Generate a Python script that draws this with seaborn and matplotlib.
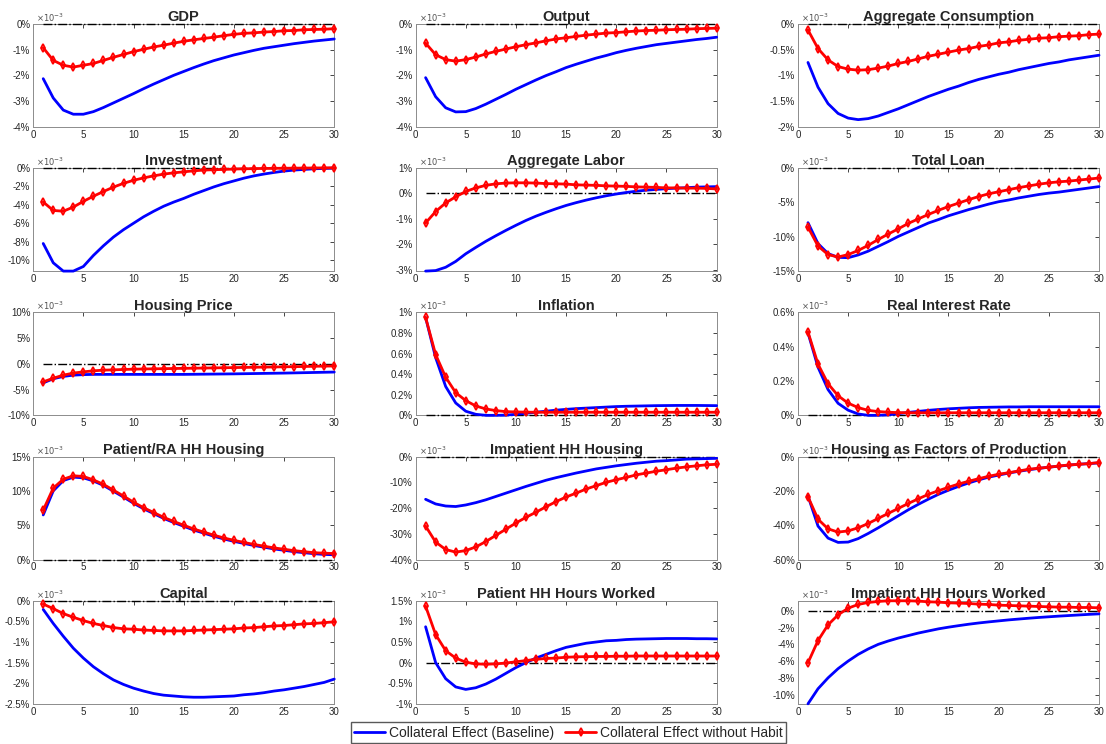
import numpy as np
import matplotlib
matplotlib.use('Agg')
import matplotlib.pyplot as plt
import seaborn as sns

# periods after the shock
periods = list(range(1, 31))

# Collateral Effect (Baseline) / Collateral Effect without Habit, values in %
gdp_base = [-2.13, -2.88, -3.35, -3.51, -3.51, -3.41, -3.25, -3.07, -2.89, -2.71,
            -2.52, -2.34, -2.17, -2.00, -1.85, -1.70, -1.56, -1.43, -1.32, -1.21,
            -1.12, -1.03, -0.95, -0.89, -0.83, -0.77, -0.72, -0.67, -0.63, -0.59]
gdp_nohabit = [-0.93, -1.42, -1.61, -1.68, -1.61, -1.54, -1.42, -1.30, -1.19, -1.08,
               -0.99, -0.90, -0.83, -0.75, -0.68, -0.62, -0.57, -0.52, -0.46, -0.41,
               -0.37, -0.35, -0.32, -0.30, -0.27, -0.26, -0.23, -0.22, -0.21, -0.19]

output_base = [-2.09, -2.83, -3.26, -3.42, -3.41, -3.29, -3.12, -2.93, -2.74, -2.54,
               -2.36, -2.18, -2.01, -1.86, -1.70, -1.57, -1.45, -1.33, -1.23, -1.12,
               -1.03, -0.95, -0.88, -0.81, -0.76, -0.71, -0.66, -0.61, -0.57, -0.52]
output_nohabit = [-0.75, -1.20, -1.39, -1.45, -1.39, -1.29, -1.17, -1.07, -0.98, -0.89,
                  -0.81, -0.74, -0.66, -0.59, -0.54, -0.49, -0.44, -0.40, -0.36, -0.34,
                  -0.31, -0.28, -0.26, -0.25, -0.23, -0.22, -0.21, -0.19, -0.18, -0.17]

cons_base = [-0.75, -1.23, -1.55, -1.74, -1.83, -1.86, -1.84, -1.79, -1.72, -1.65,
             -1.57, -1.49, -1.41, -1.34, -1.27, -1.21, -1.14, -1.08, -1.03, -0.98,
             -0.94, -0.89, -0.85, -0.81, -0.77, -0.74, -0.70, -0.67, -0.64, -0.61]
cons_nohabit = [-0.12, -0.48, -0.70, -0.83, -0.88, -0.90, -0.89, -0.86, -0.82, -0.77,
                -0.73, -0.68, -0.63, -0.59, -0.55, -0.51, -0.48, -0.44, -0.41, -0.37,
                -0.35, -0.32, -0.30, -0.28, -0.27, -0.25, -0.24, -0.23, -0.21, -0.20]

inv_base = [-8.2, -10.3, -11.2, -11.2, -10.7, -9.5, -8.45, -7.5, -6.7, -6.0,
            -5.3, -4.7, -4.15, -3.7, -3.3, -2.85, -2.45, -2.05, -1.7, -1.4,
            -1.1, -0.85, -0.65, -0.48, -0.33, -0.22, -0.15, -0.08, -0.04, 0.0]
inv_nohabit = [-3.69, -4.61, -4.69, -4.24, -3.62, -3.06, -2.55, -2.07, -1.66, -1.33,
               -1.07, -0.85, -0.66, -0.52, -0.41, -0.30, -0.22, -0.18, -0.15, -0.11,
               -0.08, -0.06, -0.04, -0.03, -0.02, -0.01, 0.0, 0.01, 0.02, 0.03]

labor_base = [-3.05, -3.03, -2.90, -2.67, -2.37, -2.12, -1.88, -1.66, -1.45, -1.25,
              -1.06, -0.89, -0.74, -0.60, -0.47, -0.36, -0.26, -0.17, -0.09, -0.02,
              0.04, 0.09, 0.13, 0.16, 0.19, 0.21, 0.23, 0.25, 0.26, 0.27]
labor_nohabit = [-1.16, -0.71, -0.37, -0.13, 0.08, 0.22, 0.32, 0.38, 0.41, 0.42,
                 0.42, 0.41, 0.39, 0.38, 0.37, 0.34, 0.33, 0.32, 0.30, 0.29,
                 0.28, 0.26, 0.25, 0.24, 0.22, 0.22, 0.21, 0.21, 0.20, 0.18]

loan_base = [-7.95, -11.0, -12.45, -13.0, -13.05, -12.65, -12.1, -11.4, -10.7, -9.95,
             -9.3, -8.65, -8.0, -7.5, -6.95, -6.5, -6.05, -5.65, -5.25, -4.9,
             -4.65, -4.35, -4.1, -3.85, -3.65, -3.5, -3.3, -3.1, -2.9, -2.7]
loan_nohabit = [-8.6, -11.35, -12.6, -12.95, -12.6, -12.0, -11.25, -10.4, -9.6, -8.85,
                -8.05, -7.4, -6.75, -6.15, -5.6, -5.1, -4.6, -4.15, -3.75, -3.45,
                -3.15, -2.85, -2.6, -2.35, -2.15, -2.0, -1.9, -1.75, -1.6, -1.45]

hprice_base = [-3.7, -2.9, -2.45, -2.2, -2.1, -2.05, -2.05, -2.05, -2.05, -2.05,
               -2.05, -2.05, -2.05, -2.05, -2.05, -2.03, -2.01, -1.99, -1.97, -1.95,
               -1.92, -1.89, -1.86, -1.83, -1.8, -1.76, -1.72, -1.68, -1.64, -1.6]
hprice_nohabit = [-3.5, -2.8, -2.2, -1.8, -1.56, -1.36, -1.23, -1.17, -1.1, -1.04,
                  -1.0, -0.97, -0.94, -0.91, -0.88, -0.85, -0.82, -0.79, -0.76, -0.73,
                  -0.70, -0.67, -0.64, -0.61, -0.58, -0.55, -0.52, -0.48, -0.45, -0.42]

infl_base = [0.95, 0.56, 0.28, 0.12, 0.04, 0.01, 0.0, 0.0, 0.002, 0.01,
             0.02, 0.03, 0.04, 0.05, 0.058, 0.065, 0.07, 0.075, 0.08, 0.085,
             0.088, 0.09, 0.092, 0.094, 0.095, 0.096, 0.096, 0.096, 0.095, 0.094]
infl_nohabit = [0.95, 0.59, 0.37, 0.22, 0.143, 0.091, 0.062, 0.046, 0.036, 0.033,
                0.031, 0.03, 0.03, 0.03, 0.03, 0.03, 0.03, 0.03, 0.03, 0.03,
                0.03, 0.03, 0.03, 0.03, 0.03, 0.03, 0.03, 0.03, 0.03, 0.03]

rate_base = [0.48, 0.28, 0.15, 0.07, 0.03, 0.008, 0.0, 0.0, 0.003, 0.01,
             0.017, 0.023, 0.029, 0.034, 0.038, 0.041, 0.044, 0.046, 0.047, 0.048,
             0.049, 0.049, 0.05, 0.05, 0.05, 0.05, 0.05, 0.05, 0.05, 0.05]
rate_nohabit = [0.486, 0.298, 0.184, 0.114, 0.071, 0.045, 0.029, 0.022, 0.018, 0.016,
                0.015, 0.015, 0.015, 0.015, 0.015, 0.015, 0.015, 0.015, 0.015, 0.015,
                0.015, 0.015, 0.015, 0.015, 0.015, 0.015, 0.015, 0.015, 0.015, 0.015]

pat_house_base = [6.5, 10.0, 11.5, 12.0, 11.9, 11.45, 10.8, 9.95, 9.1, 8.2,
                  7.4, 6.7, 6.0, 5.4, 4.85, 4.3, 3.85, 3.4, 3.0, 2.65,
                  2.35, 2.05, 1.8, 1.55, 1.35, 1.15, 1.0, 0.85, 0.75, 0.7]
pat_house_nohabit = [7.2, 10.4, 11.7, 12.2, 12.1, 11.6, 10.95, 10.1, 9.25, 8.35,
                     7.55, 6.85, 6.15, 5.55, 5.0, 4.45, 4.0, 3.55, 3.15, 2.8,
                     2.5, 2.2, 1.95, 1.7, 1.5, 1.3, 1.15, 1.0, 0.93, 0.88]

imp_house_base = [-16.6, -18.4, -19.2, -19.4, -18.8, -17.9, -16.8, -15.5, -14.2, -12.9,
                  -11.6, -10.4, -9.2, -8.2, -7.3, -6.4, -5.6, -4.8, -4.2, -3.6,
                  -3.1, -2.6, -2.2, -1.8, -1.6, -1.3, -1.0, -0.9, -0.8, -0.7]
imp_house_nohabit = [-27.0, -33.2, -36.1, -37.1, -36.5, -35.1, -33.0, -30.6, -28.2, -25.8,
                     -23.6, -21.6, -19.5, -17.5, -15.7, -14.2, -12.6, -11.3, -10.0, -9.0,
                     -8.1, -7.1, -6.4, -5.7, -5.1, -4.5, -4.0, -3.6, -3.2, -3.0]

hfac_base = [-23.0, -40.5, -47.5, -50.0, -49.8, -47.8, -44.8, -41.5, -38.0, -34.5,
             -31.0, -27.8, -24.8, -22.0, -19.6, -17.4, -15.4, -13.6, -12.0, -10.8,
             -9.6, -8.6, -7.7, -6.9, -6.2, -5.6, -5.0, -4.5, -4.1, -3.7]
hfac_nohabit = [-23.4, -36.5, -42.1, -44.0, -43.3, -41.5, -39.0, -36.0, -33.1, -30.2,
                -27.3, -24.6, -22.0, -19.9, -17.9, -16.0, -14.4, -12.9, -11.5, -10.3,
                -9.4, -8.4, -7.4, -6.8, -6.2, -5.5, -4.9, -4.5, -4.1, -3.5]

capital_base = [-0.21, -0.55, -0.86, -1.15, -1.39, -1.60, -1.77, -1.92, -2.03, -2.12,
                -2.19, -2.25, -2.29, -2.31, -2.33, -2.34, -2.34, -2.33, -2.32, -2.31,
                -2.28, -2.26, -2.23, -2.19, -2.16, -2.12, -2.08, -2.03, -1.98, -1.90]
capital_nohabit = [-0.08, -0.19, -0.31, -0.40, -0.48, -0.55, -0.60, -0.65, -0.68, -0.69,
                   -0.71, -0.72, -0.73, -0.73, -0.73, -0.72, -0.71, -0.70, -0.69, -0.68,
                   -0.66, -0.65, -0.63, -0.61, -0.60, -0.58, -0.56, -0.55, -0.53, -0.51]

pat_hours_base = [0.87, 0.0, -0.39, -0.59, -0.65, -0.61, -0.52, -0.40, -0.26, -0.12,
                  0.0, 0.11, 0.20, 0.29, 0.37, 0.42, 0.47, 0.50, 0.53, 0.54,
                  0.56, 0.57, 0.575, 0.58, 0.585, 0.585, 0.585, 0.58, 0.58, 0.575]
pat_hours_nohabit = [1.37, 0.68, 0.29, 0.11, 0.01, -0.03, -0.04, -0.03, -0.01, 0.02,
                     0.05, 0.08, 0.10, 0.11, 0.13, 0.14, 0.145, 0.15, 0.15, 0.155,
                     0.155, 0.16, 0.16, 0.16, 0.16, 0.16, 0.16, 0.16, 0.16, 0.16]

imp_hours_base = [-11.1, -9.3, -8.0, -6.9, -6.0, -5.2, -4.55, -4.0, -3.6, -3.25,
                  -2.95, -2.65, -2.4, -2.15, -1.95, -1.77, -1.6, -1.45, -1.32, -1.2,
                  -1.08, -0.98, -0.88, -0.79, -0.71, -0.63, -0.56, -0.49, -0.42, -0.36]
imp_hours_nohabit = [-6.2, -3.55, -1.67, -0.48, 0.32, 0.76, 1.0, 1.12, 1.2, 1.2,
                     1.2, 1.16, 1.08, 1.04, 0.96, 0.92, 0.88, 0.8, 0.76, 0.68,
                     0.64, 0.6, 0.56, 0.52, 0.48, 0.44, 0.44, 0.4, 0.4, 0.36]

titles = ['GDP', 'Output', 'Aggregate Consumption',
          'Investment', 'Aggregate Labor', 'Total Loan',
          'Housing Price', 'Inflation', 'Real Interest Rate',
          'Patient/RA HH Housing', 'Impatient HH Housing', 'Housing as Factors of Production',
          'Capital', 'Patient HH Hours Worked', 'Impatient HH Hours Worked']
baseline = [gdp_base, output_base, cons_base, inv_base, labor_base, loan_base,
            hprice_base, infl_base, rate_base, pat_house_base, imp_house_base, hfac_base,
            capital_base, pat_hours_base, imp_hours_base]
no_habit = [gdp_nohabit, output_nohabit, cons_nohabit, inv_nohabit, labor_nohabit, loan_nohabit,
            hprice_nohabit, infl_nohabit, rate_nohabit, pat_house_nohabit, imp_house_nohabit,
            hfac_nohabit, capital_nohabit, pat_hours_nohabit, imp_hours_nohabit]

# axis ranges and tick positions, per panel
ylims = [(-4, 0), (-4, 0), (-2, 0),
         (-11.2, 0), (-3.05, 1), (-15, 0),
         (-10, 10), (0, 1), (0, 0.6),
         (0, 15), (-40, 0), (-60, 0),
         (-2.5, 0), (-1, 1.5), (-11.1, 1.2)]
yticks = [np.arange(-4, 0.1, 1), np.arange(-4, 0.1, 1), np.arange(-2, 0.1, 0.5),
          np.arange(-10, 0.1, 2), np.arange(-3, 1.1, 1), np.arange(-15, 0.1, 5),
          np.arange(-10, 10.1, 5), np.arange(0, 1.01, 0.2), np.arange(0, 0.61, 0.2),
          np.arange(0, 15.1, 5), np.arange(-40, 0.1, 10), np.arange(-60, 0.1, 20),
          np.arange(-2.5, 0.01, 0.5), np.arange(-1, 1.51, 0.5), np.arange(-10, 0.1, 2)]

sns.set_style('white')
plt.rcParams['font.family'] = ['Liberation Sans', 'DejaVu Sans']

fig, axes = plt.subplots(5, 3, figsize=(11.06, 7.44), dpi=100)
fig.subplots_adjust(left=0.030, right=0.9937, top=0.968, bottom=0.054, wspace=0.27, hspace=0.40)

zeros = [0] * len(periods)
for i, ax in enumerate(axes.flat):
    sns.lineplot(x=periods, y=zeros, ax=ax, color='black', linestyle='-.', linewidth=1,
                 clip_on=False, zorder=3)
    sns.lineplot(x=periods, y=baseline[i], ax=ax, color='#0000ff', linewidth=2,
                 label='Collateral Effect (Baseline)', clip_on=False, zorder=3)
    sns.lineplot(x=periods, y=no_habit[i], ax=ax, color='#ff0000', linewidth=2,
                 marker='d', markersize=4, markerfacecolor='none',
                 markeredgecolor='#ff0000', markeredgewidth=1.3,
                 label='Collateral Effect without Habit', clip_on=False, zorder=4)
    ax.set_xlim(0, 30)
    ax.set_ylim(*ylims[i])
    ax.set_xticks(range(0, 31, 5))
    ax.set_yticks(yticks[i])
    ax.set_yticklabels([f'{round(v, 2):g}%' for v in yticks[i]])
    ax.set_title(titles[i], fontsize=10.5, fontweight='bold', pad=2)
    ax.tick_params(direction='in', length=3, width=0.6, labelsize=7, colors='#262626',
                   top=True, right=True, pad=2)
    for s in ax.spines.values():
        s.set_color('#8c8c8c')
        s.set_linewidth(0.7)
    ax.text(0.01, 1.0, r'$\times10^{-3}$', transform=ax.transAxes, ha='left', va='bottom',
            fontsize=6, color='#505050')
    ax.legend_.remove()

handles, labels = axes[0, 0].get_legend_handles_labels()
fig.legend(handles[-2:], labels[-2:], loc='lower center', bbox_to_anchor=(0.514, -0.008),
           ncol=2, fontsize=10, frameon=True, fancybox=False, edgecolor='#303030',
           handlelength=2.2, columnspacing=0.8, handletextpad=0.3, borderpad=0.25)

fig.savefig('out.png', dpi=100)
